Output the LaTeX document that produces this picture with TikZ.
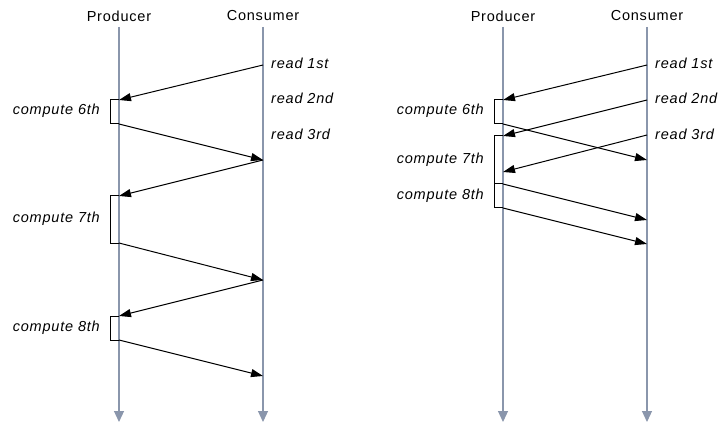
\documentclass[tikz,border=0pt]{standalone}
\usepackage{fontspec}
\setmainfont[LetterSpace=5.5]{Liberation Sans}
\usetikzlibrary{arrows.meta}
\definecolor{lifeline}{RGB}{138,150,172}
\begin{document}
\begin{tikzpicture}[x=1pt,y=-1pt,
  lifeline/.style={draw=lifeline, line width=1.2pt, -{Triangle[length=11pt,width=10pt]}},
  msg/.style={draw=black, line width=1pt, -{Triangle[length=12pt,width=8pt]}},
  act/.style={draw=black, line width=1pt},
  head/.style={inner sep=0pt, font=\fontsize{14.5}{16}\selectfont},
  note/.style={inner sep=0pt, font=\fontsize{14.5}{16}\selectfont\itshape},
]
\useasboundingbox (0,0) rectangle (718,425);

% ---------- sequential version ----------
\node[head] (pa) at (119,16) {Producer};
\node[head] (ca) at (263,16) {Consumer};
\coordinate (pa0) at (119,27); \coordinate (pa9) at (119,422);
\coordinate (ca0) at (263,27); \coordinate (ca9) at (263,422);
\draw[lifeline] (pa0) -- (pa9);
\draw[lifeline] (ca0) -- (ca9);

\node[note, anchor=west] (ra1) at (271,63) {read 1st};
\node[note, anchor=west] (ra2) at (271,98) {read 2nd};
\node[note, anchor=west] (ra3) at (271,134) {read 3rd};

\coordinate (a6t) at (119,100); \coordinate (a6b) at (119,124);
\coordinate (a7t) at (119,196); \coordinate (a7b) at (119,243);
\coordinate (a8t) at (119,316); \coordinate (a8b) at (119,340);
\draw[act] (a6t) -- ++(-9,0) |- (a6b);
\draw[act] (a7t) -- ++(-9,0) |- (a7b);
\draw[act] (a8t) -- ++(-9,0) |- (a8b);
\node[note, anchor=east] (la6) at (100,111) {compute 6th};
\node[note, anchor=east] (la7) at (100,219) {compute 7th};
\node[note, anchor=east] (la8) at (100,328) {compute 8th};

\coordinate (qa1) at (263,65);
\coordinate (qa2) at (263,160);
\coordinate (qa3) at (263,280);
\coordinate (qa4) at (263,376);
\draw[msg] (qa1) -- (a6t);
\draw[msg] (a6b) -- (qa2);
\draw[msg] (qa2) -- (a7t);
\draw[msg] (a7b) -- (qa3);
\draw[msg] (qa3) -- (a8t);
\draw[msg] (a8b) -- (qa4);

% ---------- overlapped version ----------
\node[head] (pb) at (503,16) {Producer};
\node[head] (cb) at (647,16) {Consumer};
\coordinate (pb0) at (503,27); \coordinate (pb9) at (503,422);
\coordinate (cb0) at (647,27); \coordinate (cb9) at (647,422);
\draw[lifeline] (pb0) -- (pb9);
\draw[lifeline] (cb0) -- (cb9);

\node[note, anchor=west] (rb1) at (655,63) {read 1st};
\node[note, anchor=west] (rb2) at (655,98) {read 2nd};
\node[note, anchor=west] (rb3) at (655,134) {read 3rd};

\coordinate (b6t) at (503,100); \coordinate (b6b) at (503,124);
\coordinate (b7t) at (503,136); \coordinate (b7b) at (503,184);
\coordinate (b8b) at (503,208);
\coordinate (b7m) at (503,172);
\draw[act] (b6t) -- ++(-9,0) |- (b6b);
\draw[act] (b7t) -- ++(-9,0) |- (b7b);
\draw[act] (b7b) -- ++(-9,0) |- (b8b);
\node[note, anchor=east] (lb6) at (484,111) {compute 6th};
\node[note, anchor=east] (lb7) at (484,160) {compute 7th};
\node[note, anchor=east] (lb8) at (484,196) {compute 8th};

\coordinate (qb1) at (647,65);
\coordinate (qb2) at (647,100);
\coordinate (qb3) at (647,135);
\coordinate (qb4) at (647,160);
\coordinate (qb5) at (647,220);
\coordinate (qb6) at (647,244);
\draw[msg] (qb1) -- (b6t);
\draw[msg] (qb2) -- (b7t);
\draw[msg] (qb3) -- (b7m);
\draw[msg] (b6b) -- (qb4);
\draw[msg] (b7b) -- (qb5);
\draw[msg] (b8b) -- (qb6);
\end{tikzpicture}
\end{document}
